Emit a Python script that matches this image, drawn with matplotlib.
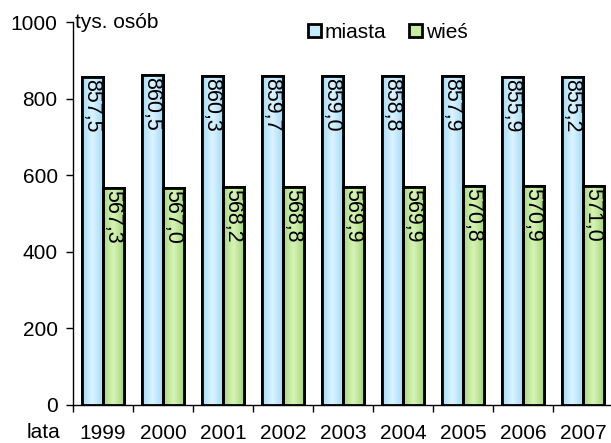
import matplotlib
matplotlib.use("Agg")
import matplotlib.pyplot as plt
import numpy as np
from matplotlib.patches import Rectangle, Patch
import matplotlib.transforms as mtransforms

plt.rcParams['font.family'] = ['Liberation Sans', 'DejaVu Sans']

years = ["1999", "2000", "2001", "2002", "2003", "2004", "2005", "2006", "2007"]
miasta = [857.5, 860.5, 860.3, 859.7, 859.0, 858.8, 857.9, 855.9, 855.2]
wies = [567.3, 567.0, 568.2, 568.8, 569.9, 569.9, 570.8, 570.9, 571.0]
series_names = ["miasta", "wieś"]
yticks = [0, 200, 400, 600, 800, 1000]

fig = plt.figure(figsize=(6.11, 4.43), dpi=100)
ax = fig.add_axes([73/611, 1-405/443, 540/611, (405-22)/443])

x = np.arange(len(years))
w = 0.345

def grad_bars(xs, vals, c_edge, c_mid, label):
    bars = ax.bar(xs, vals, width=w, color=c_edge, edgecolor='black',
                  linewidth=2, label=label, zorder=2)
    ce = np.array(matplotlib.colors.to_rgb(c_edge))
    cm = np.array(matplotlib.colors.to_rgb(c_mid))
    t = np.linspace(0, 1, 50)
    prof = 1 - np.abs(t - 0.5) * 2
    img = (ce[None, :] * (1 - prof[:, None]) + cm[None, :] * prof[:, None])[None, :, :]
    for b in bars:
        x0, y0 = b.get_x(), b.get_y()
        im = ax.imshow(img, extent=[x0, x0 + b.get_width(), y0, y0 + b.get_height()],
                       aspect='auto', zorder=2.5, interpolation='bilinear')
        im.set_clip_path(b)
        r = Rectangle((x0, y0), b.get_width(), b.get_height(), fill=False,
                      edgecolor='black', linewidth=2, zorder=3)
        ax.add_patch(r)
    return bars

grad_bars(x - w/2, miasta, '#a6dbf8', '#dcf3ff', series_names[0])
grad_bars(x + w/2, wies, '#a6d778', '#d6f3b8', series_names[1])

def fmt(v):
    return f"{v:.1f}".replace('.', ',')

shift = mtransforms.ScaledTranslation(-6.5/100, -2/100, fig.dpi_scale_trans)
for xs, vals in ((x - w/2, miasta), (x + w/2, wies)):
    for xi, v in zip(xs, vals):
        ax.text(xi, v, fmt(v), rotation=-90, rotation_mode='anchor',
                ha='left', va='baseline', fontsize=15.5, zorder=4,
                transform=ax.transData + shift)

ax.set_xlim(-0.5, len(years) - 0.5)
ax.set_ylim(0, 1000)
ax.set_yticks(yticks)
ax.set_yticklabels([str(t) for t in yticks], fontsize=15)
ax.set_xticks(np.arange(len(years) + 1) - 0.5)
ax.set_xticklabels([])
ax.set_xticks(x, minor=True)
ax.set_xticklabels(years, minor=True, fontsize=15)
ax.tick_params(axis='x', which='minor', length=0, pad=14)
ax.tick_params(axis='x', which='major', length=5, direction='out', width=1)
ax.tick_params(axis='y', length=5, direction='out', width=1, pad=6)
for s in ['top', 'right']:
    ax.spines[s].set_visible(False)
ax.spines['left'].set_linewidth(1)
ax.spines['bottom'].set_linewidth(1)

ax.text(0.003, 1000, "tys. osób", fontsize=15, va='center', ha='left',
        transform=ax.get_yaxis_transform())
fig.text(27/611, 1-433/443, "lata", fontsize=15, va='center', ha='left')

handles = [Patch(facecolor='#c4eaff', edgecolor='black', linewidth=2),
           Patch(facecolor='#c8eca0', edgecolor='black', linewidth=2)]
fig.legend(handles, series_names, loc='center', bbox_to_anchor=(388/611, 1-32/443),
           ncol=2, frameon=False, fontsize=15, handlelength=0.6, handleheight=0.6,
           handletextpad=0.2, columnspacing=1.1)

fig.savefig("out.png", dpi=100)
